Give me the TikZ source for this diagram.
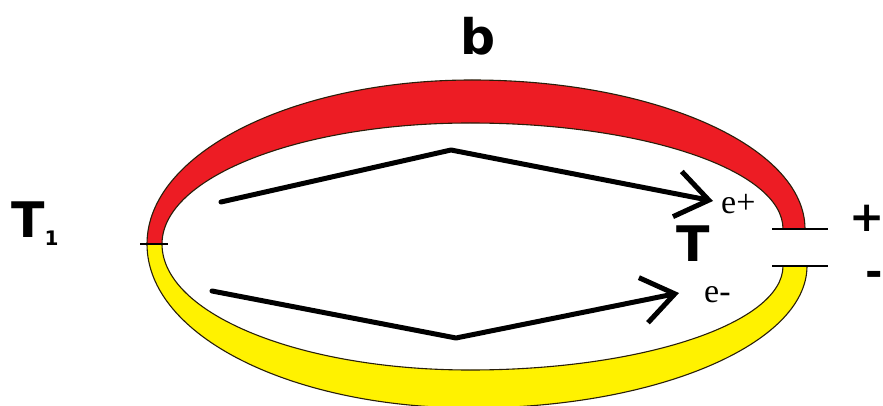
\documentclass[tikz,border=0pt]{standalone}
\usepackage{fontspec}
\setmainfont{DejaVu Sans}
\newfontfamily\eserif{Liberation Serif}
\usetikzlibrary{arrows.meta}
\definecolor{bandred}{RGB}{237,28,36}
\definecolor{bandyellow}{RGB}{255,242,0}
\definecolor{bandedge}{RGB}{40,30,10}
\begin{document}
\begin{tikzpicture}[x=1pt,y=-1pt,
  bigtext/.style={font=\bfseries\fontsize{49}{49}\selectfont, inner sep=0pt},
  signtext/.style={font=\bfseries\fontsize{42}{42}\selectfont, inner sep=0pt},
  etext/.style={font=\eserif\fontsize{34}{34}\selectfont, inner sep=0pt},
  band/.style={draw=bandedge, line width=1.1pt, line join=round},
  flow/.style={line width=5pt, line cap=round, line join=round,
    -{Straight Barb[length=32pt, width=46pt]}},
  plate/.style={line width=2.6pt},
  tick/.style={line width=1.3pt}]
\useasboundingbox (0,0) rectangle (883,406);
\fill[white] (0,0) rectangle (883,406);
\clip (0,0) rectangle (883,406);

% red band (top)
\path[band, fill=bandred]
  (147,244) .. controls (147,153) and (293,80) .. (472,80)
  .. controls (656,80) and (805,147) .. (805,229)
  -- (783,229) .. controls (783,170) and (643,123) .. (470,123)
  .. controls (300,123) and (162,177) .. (162,244) -- cycle;

% yellow band (bottom)
\path[band, fill=bandyellow]
  (147,244) .. controls (147,336) and (292,408) .. (472,408)
  .. controls (656,408) and (807,344) .. (807,266)
  -- (783,266) .. controls (783,323) and (643,370) .. (470,370)
  .. controls (300,370) and (162,314) .. (162,244) -- cycle;

% junction tick
\coordinate (tickL) at (140,244);
\coordinate (tickR) at (168,244);
\draw[tick] (tickL) -- (tickR);

% capacitor plates
\coordinate (p1a) at (772,229);
\coordinate (p1b) at (828,229);
\coordinate (p2a) at (772,266);
\coordinate (p2b) at (828,266);
\draw[plate] (p1a) -- (p1b);
\draw[plate] (p2a) -- (p2b);

% flow arrows
\coordinate (a1s) at (221,202);
\coordinate (a1m) at (451,150);
\coordinate (a1e) at (713,201);
\coordinate (a2s) at (212,291);
\coordinate (a2m) at (456,338);
\coordinate (a2e) at (679,293);
\draw[flow] (a1s) -- (a1m) -- (a1e);
\draw[flow] (a2s) -- (a2m) -- (a2e);

% labels
\node[bigtext] (b) at (478,36) {b};
\node[bigtext, anchor=base west] (T1) at (11,237)
  {T\raisebox{-8pt}{\fontsize{20}{20}\selectfont 1}};
\node[bigtext] (T) at (693,243.5) {T};
\node[signtext] (plus) at (867,218) {+};
\node[signtext] (minus) at (874,279) {-};
\node[etext, anchor=base west] (eplus) at (721,214) {e+};
\node[etext, anchor=base west] (eminus) at (704,302) {e-};
\end{tikzpicture}
\end{document}
